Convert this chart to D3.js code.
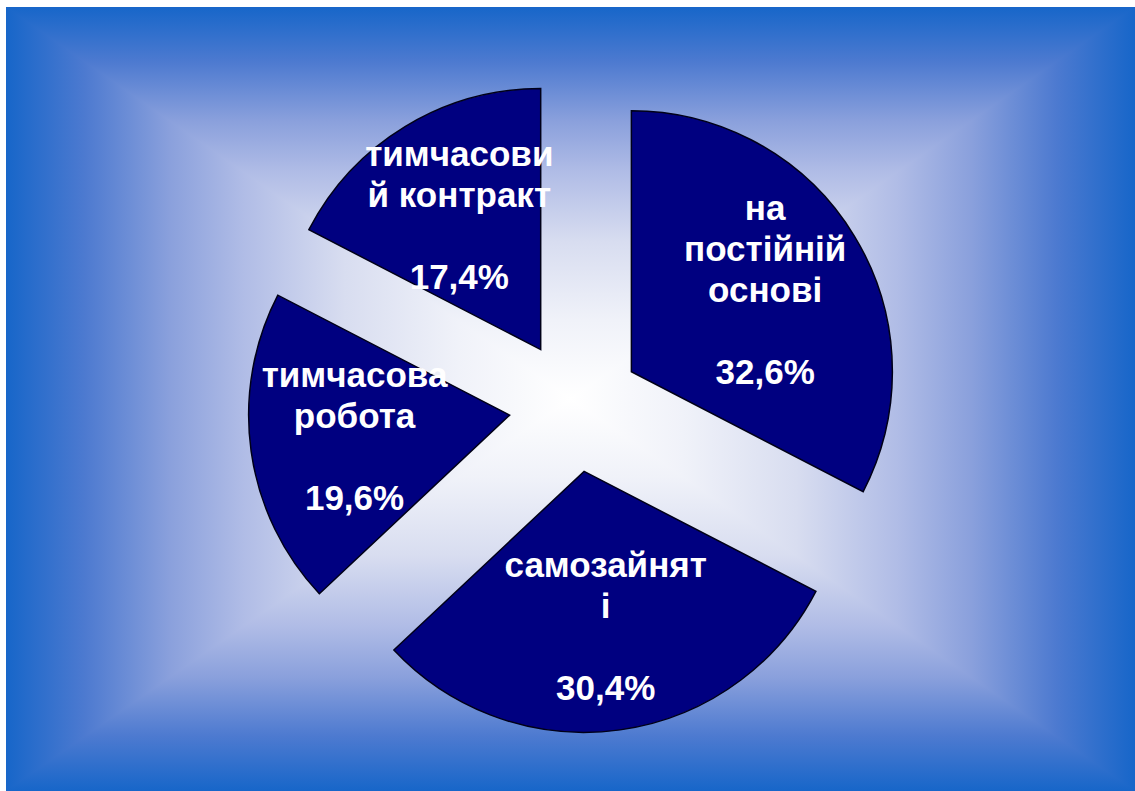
<html>
<head>
<meta charset="utf-8">
<script src="https://d3js.org/d3.v7.min.js"></script>
<style>
body { margin: 0; background: #fff; }
svg { display: block; }
.label { font-family: "Liberation Sans", Arial, sans-serif; font-weight: bold; font-size: 35px; fill: #fff; }
</style>
</head>
<body>
<div id="plot"></div>
<script>

// data, slices go clockwise from 12 o'clock
var categories = ["на постійній основі", "самозайняті", "тимчасова робота", "тимчасовий контракт"];
var shares = [32.6, 30.4, 19.6, 17.4];
// how the category names are wrapped inside the slices
var labelLines = [["на", "постійній", "основі"], ["самозайнят", "і"], ["тимчасова", "робота"], ["тимчасови", "й контракт"]];

var width = 1135;
var height = 791;
var x0 = 6, y0 = 7; // white margin on the left and top

var svg = d3.select("#plot").append("svg")
  .attr("width", width).attr("height", height);

// rectangular gradient background
var gx = (x0 + width) / 2, gy = (y0 + height) / 2;
var stops = [
  [0, "#1766c9"], [0.14, "#4d7ad0"], [0.29, "#8aa0dc"], [0.42, "#b0bce6"],
  [0.6, "#d8ddf0"], [0.8, "#f0f2f9"], [1, "#ffffff"]
];
var defs = svg.append("defs");

function addGradient(id, x1, y1, x2, y2, mirror) {
  var g = defs.append("linearGradient").attr("id", id)
    .attr("gradientUnits", "userSpaceOnUse")
    .attr("x1", x1).attr("y1", y1).attr("x2", x2).attr("y2", y2);
  var list = stops.map(s => [mirror ? s[0] / 2 : s[0], s[1]]);
  if (mirror) {
    stops.slice().reverse().forEach(s => list.push([1 - s[0] / 2, s[1]]));
  }
  list.forEach(function (st) {
    g.append("stop").attr("offset", st[0]).attr("stop-color", st[1]);
  });
}

// left/right part as one rect, so no seams show between triangles
addGradient("gSides", x0, 0, width, 0, true);
svg.append("rect")
  .attr("x", x0).attr("y", y0)
  .attr("width", width - x0).attr("height", height - y0)
  .attr("fill", "url(#gSides)");

// top and bottom triangles on top of it
addGradient("gTop", 0, y0, 0, gy, false);
addGradient("gBottom", 0, height, 0, gy, false);
svg.append("polygon")
  .attr("points", [[x0, y0], [width, y0], [gx, gy]].map(p => p.join(",")).join(" "))
  .attr("fill", "url(#gTop)");
svg.append("polygon")
  .attr("points", [[x0, height], [width, height], [gx, gy]].map(p => p.join(",")).join(" "))
  .attr("fill", "url(#gBottom)");

// pie
var cx = 575, cy = 406;
var radius = 261;
var explode = 66;
var lineHeight = 41;

var pie = d3.pie().sort(null).value(d => d);
var arc = d3.arc().innerRadius(0).outerRadius(radius);
var arcs = pie(shares);

var chart = svg.append("g").attr("transform", "translate(" + cx + "," + cy + ")");

var slice = chart.selectAll("g.slice").data(arcs).enter().append("g")
  .attr("class", "slice")
  .attr("transform", function (d) {
    var a = (d.startAngle + d.endAngle) / 2;
    return "translate(" + (Math.sin(a) * explode) + "," + (-Math.cos(a) * explode) + ")";
  });

slice.append("path")
  .attr("d", arc)
  .style("fill", "#000080")
  .style("stroke", "#000018")
  .style("stroke-width", 1.5);

function fmt(v) { return v.toFixed(1).replace(".", ",") + "%"; }

slice.append("text")
  .attr("class", "label")
  .attr("text-anchor", "middle")
  .each(function (d, i) {
    var a = (d.startAngle + d.endAngle) / 2;
    var lx = Math.sin(a) * radius * 0.6;
    var ly = -Math.cos(a) * radius * 0.6;
    var lines = labelLines[i].concat(["", fmt(shares[i])]);
    var n = lines.length;
    var t = d3.select(this);
    lines.forEach(function (line, j) {
      t.append("tspan")
        .attr("x", lx)
        .attr("y", ly + (j - (n - 1) / 2) * lineHeight + 12)
        .text(line);
    });
  });

</script>
</body>
</html>
